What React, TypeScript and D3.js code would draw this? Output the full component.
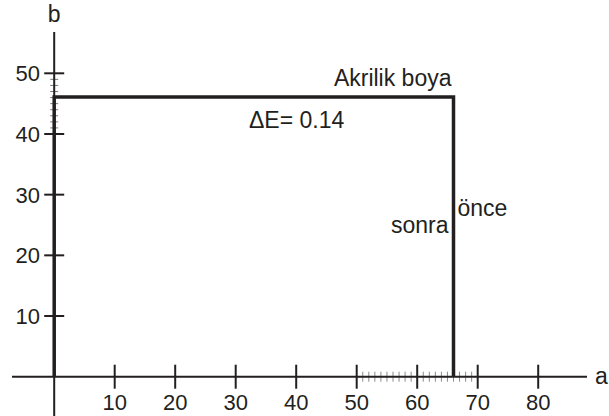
import React from "react";
import * as d3 from "d3";

const aTicks = [10, 20, 30, 40, 50, 60, 70, 80];
const bTicks = [10, 20, 30, 40, 50];
const aMinor = [51, 52, 53, 54, 55, 56, 57, 58, 59, 61, 62, 63, 64, 65, 66, 67, 68, 69];
const bMinor = [41, 42, 43, 44, 45, 46, 47, 48, 49];
const sampleA = [66];
const sampleB = [46.1];
const labels = { title: "Akrilik boya", delta: "ΔE= 0.14", before: "önce", after: "sonra" };

const W = 609;
const H = 416;
const ink = "#231f20";
const font = "'Liberation Sans', Arial, Helvetica, sans-serif";

export default function App() {
  const x = d3.scaleLinear().domain([0, 80]).range([54.2, 538.2]);
  const y = d3.scaleLinear().domain([0, 50]).range([376.7, 73.3]);
  const a = sampleA[0];
  const b = sampleB[0];
  const line = d3.line<[number, number]>().x((d) => x(d[0])).y((d) => y(d[1]));
  const path = line([[0, 0], [0, b], [a, b], [a, 0]]) || "";
  const x0 = x(0);
  const y0 = y(0);
  return (
    <svg width={W} height={H} style={{ position: "absolute", left: 0, top: 0, background: "#fff" }} fontFamily={font}>
      {aMinor.map((v) => (
        <line key={"am" + v} x1={x(v)} x2={x(v)} y1={y0 - 5} y2={y0 + 5} stroke="#8a8a8a" strokeWidth={1} />
      ))}
      {bMinor.map((v) => (
        <line key={"bm" + v} x1={x0 - 4} x2={x0 + 4} y1={y(v)} y2={y(v)} stroke="#7a7a7a" strokeWidth={1} />
      ))}
      <line x1={12} x2={587} y1={y0} y2={y0} stroke={ink} strokeWidth={2} />
      <line x1={x0} x2={x0} y1={32} y2={H} stroke={ink} strokeWidth={2} />
      {aTicks.map((v) => (
        <g key={"at" + v}>
          <line x1={x(v)} x2={x(v)} y1={y0 - 12} y2={y0 + 12} stroke={ink} strokeWidth={2} />
          <text x={x(v)} y={410} textAnchor="middle" fontSize={22} fill={ink}>{v}</text>
        </g>
      ))}
      {bTicks.map((v) => (
        <g key={"bt" + v}>
          <line x1={x0 - 10} x2={x0 + 10} y1={y(v)} y2={y(v)} stroke={ink} strokeWidth={2} />
          <text x={40} y={y(v) + 8} textAnchor="end" fontSize={22} fill={ink}>{v}</text>
        </g>
      ))}
      <text x={x0} y={22} textAnchor="middle" fontSize={23} fill={ink}>b</text>
      <text x={595} y={384} fontSize={23} fill={ink}>a</text>
      <path d={path} fill="none" stroke={ink} strokeWidth={3.5} strokeLinejoin="miter" />
      <text x={x(a) - 2} y={y(b) - 11} textAnchor="end" fontSize={23} fill={ink}>{labels.title}</text>
      <text x={249} y={128} fontSize={23} fill={ink}>{labels.delta}</text>
      <text x={x(a) - 5} y={233} textAnchor="end" fontSize={23} fill={ink}>{labels.after}</text>
      <text x={x(a) + 4} y={216} fontSize={23} fill={ink}>{labels.before}</text>
    </svg>
  );
}
